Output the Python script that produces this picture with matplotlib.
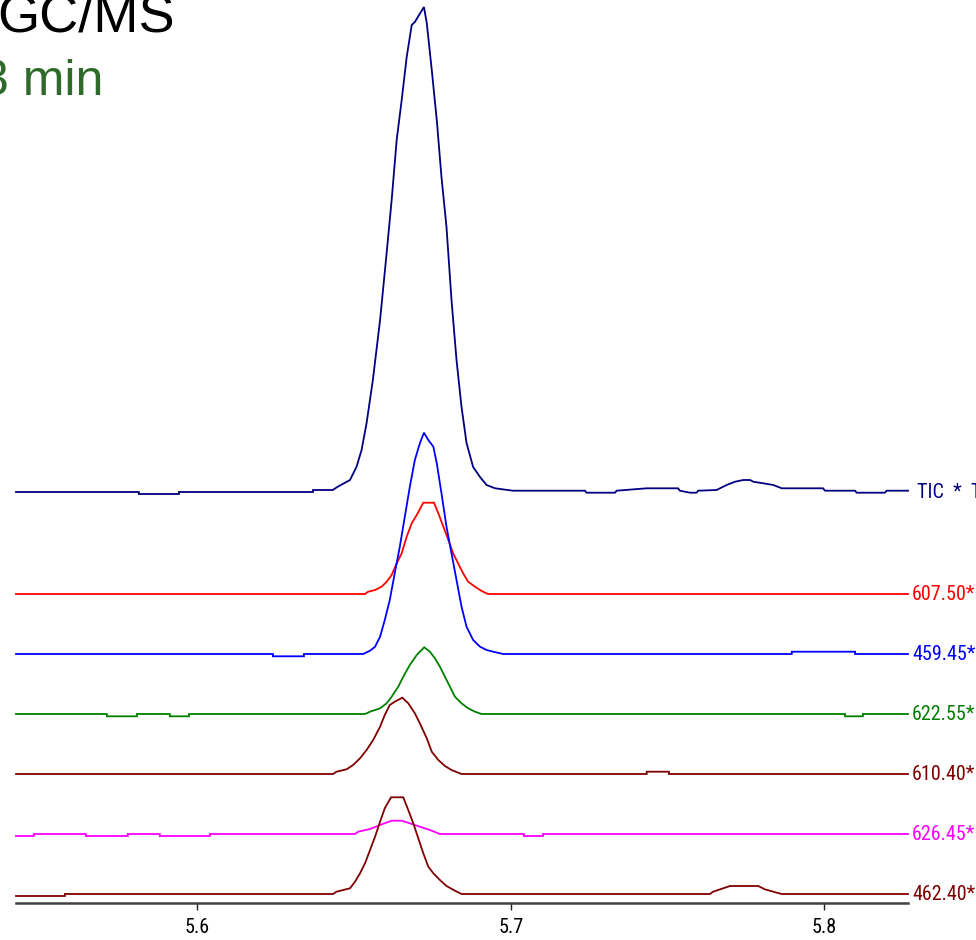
import matplotlib
matplotlib.use("Agg")
import matplotlib.pyplot as plt
from matplotlib import font_manager as fm

# ---------------- data (time in min, intensity in arbitrary units) ----------------
tic_t = [5.5421, 5.5813, 5.5813, 5.5941, 5.5941, 5.6369, 5.6369, 5.6432, 5.6448, 5.6487,
         5.6508, 5.6524, 5.6540, 5.6560, 5.6583, 5.6604, 5.6620, 5.6636, 5.6652, 5.6668,
         5.6684, 5.6694, 5.6723, 5.6732, 5.6748, 5.6764, 5.6779, 5.6795, 5.6811, 5.6827,
         5.6843, 5.6859, 5.6880, 5.6902, 5.6923, 5.6950, 5.7007, 5.7237, 5.7242, 5.7333,
         5.7338, 5.7434, 5.7534, 5.7540, 5.7572, 5.7593, 5.7598, 5.7657, 5.7689, 5.7716,
         5.7742, 5.7764, 5.7774, 5.7806, 5.7838, 5.7865, 5.7997, 5.8003, 5.8099, 5.8104,
         5.8194, 5.8200, 5.8268]
tic_i = [0, 0, -2, -2, 0, 0, 2, 2, 5.3, 12,
         25.3, 42, 69, 112, 172, 239, 292, 352, 392, 435,
         467, 470, 485, 469, 422, 372, 315, 265, 192, 132,
         85, 49, 25, 15, 7, 3.7, 1.3, 1.3, -0.7, -0.7,
         1.3, 3.7, 3.7, 1.3, -0.7, -0.7, 1.3, 2, 7, 10.3,
         12, 12, 10.3, 8.7, 7, 3.7, 3.7, 1.3, 1.3, -0.7,
         -0.7, 1.3, 1.3]

m607_t = [5.5421, 5.6535, 5.6545, 5.6567, 5.6588, 5.6604, 5.6620, 5.6636, 5.6652, 5.6668,
          5.6684, 5.6700, 5.6721, 5.6755, 5.6769, 5.6785, 5.6801, 5.6816, 5.6832, 5.6848,
          5.6864, 5.6886, 5.6902, 5.6918, 5.6928, 5.8268]
m607_i = [0, 0, 2.3, 4, 7.3, 12.3, 19, 30.7, 40.7, 57.3,
          70.7, 79, 91.3, 91.3, 80.7, 67.3, 54, 40.7, 30.7, 20.7,
          12.3, 7.3, 4, 1.3, 0, 0]

m459_t = [5.5421, 5.6241, 5.6241, 5.6340, 5.6340, 5.6529, 5.6551, 5.6567, 5.6583, 5.6598,
          5.6614, 5.6630, 5.6646, 5.6662, 5.6678, 5.6694, 5.6710, 5.6723, 5.6737, 5.6753,
          5.6764, 5.6779, 5.6795, 5.6811, 5.6827, 5.6843, 5.6859, 5.6880, 5.6902, 5.6923,
          5.6944, 5.6976, 5.7897, 5.7897, 5.8099, 5.8099, 5.8268]
m459_i = [0, 0, -2.3, -2.3, 0, 0, 3.3, 7.3, 17.3, 34,
          54, 81, 107.3, 137.3, 167.3, 194, 210.7, 221.3, 214, 207.3,
          190.7, 160.7, 127.3, 100.7, 74, 47.3, 27.3, 14, 7.3, 4,
          2.3, 0, 0, 2.3, 2.3, 0, 0]

m622_t = [5.5421, 5.5711, 5.5711, 5.5807, 5.5807, 5.5912, 5.5912, 5.5973, 5.5973, 5.6535,
          5.6551, 5.6583, 5.6604, 5.6620, 5.6641, 5.6657, 5.6678, 5.6700, 5.6724, 5.6742,
          5.6758, 5.6774, 5.6790, 5.6806, 5.6822, 5.6843, 5.6864, 5.6886, 5.6907, 5.8067,
          5.8067, 5.8124, 5.8124, 5.8268]
m622_i = [0, 0, -2.3, -2.3, 0, 0, -2.3, -2.3, 0, 0,
          2.3, 5.7, 10.7, 17.3, 27.3, 37.3, 49, 59, 66.7, 62.3,
          55.7, 47.3, 37.3, 27.3, 17.3, 10.7, 5.7, 2.3, 0, 0,
          -2.3, -2.3, 0, 0]

m610_t = [5.5421, 5.6433, 5.6444, 5.6476, 5.6497, 5.6519, 5.6540, 5.6561, 5.6583, 5.6598,
          5.6614, 5.6630, 5.6654, 5.6673, 5.6694, 5.6710, 5.6732, 5.6748, 5.6769, 5.6790,
          5.6811, 5.6827, 5.6843, 5.7434, 5.7434, 5.7505, 5.7505, 5.8268]
m610_i = [0, 0, 2.3, 4.7, 9, 15.7, 24, 34, 47.3, 59,
          69, 72.3, 76.3, 70.7, 60.7, 50.7, 35.7, 22.3, 14, 8,
          4, 2, 0, 0, 2.3, 2.3, 0, 0]

m626_t = [5.5421, 5.5478, 5.5478, 5.5644, 5.5644, 5.5778, 5.5778, 5.5880, 5.5880, 5.6040,
          5.6040, 5.6503, 5.6513, 5.6551, 5.6583, 5.6620, 5.6652, 5.6678, 5.6710, 5.6742,
          5.6774, 5.7042, 5.7042, 5.7103, 5.7103, 5.8268]
m626_i = [-2, -2, 0, 0, -2, -2, 0, 0, -2, -2,
          0, 0, 2.3, 5, 9, 13.3, 13.3, 10.7, 7.3, 4,
          0, 0, -2, -2, 0, 0]

m462_t = [5.5421, 5.5577, 5.5577, 5.6433, 5.6444, 5.6487, 5.6503, 5.6519, 5.6535, 5.6551,
          5.6567, 5.6583, 5.6598, 5.6618, 5.6657, 5.6673, 5.6689, 5.6705, 5.6721, 5.6737,
          5.6753, 5.6774, 5.6795, 5.6822, 5.6843, 5.7636, 5.7646, 5.7678, 5.7700, 5.7790,
          5.7811, 5.7838, 5.7865, 5.8268]
m462_i = [-2, -2, 0, 0, 2.3, 5.7, 12.3, 20.7, 30.7, 44,
          57.3, 72.3, 85.7, 96.7, 96.7, 84, 70.7, 55.7, 40.7, 27.3,
          20.7, 14, 8, 3.3, 0, 0, 2.3, 5.7, 8, 8,
          4.7, 2.3, 0, 0]

trace_labels = ["TIC  *  TIC", "607.50*", "459.45*", "622.55*", "610.40*", "626.45*", "462.40*"]
xticks = [5.6, 5.7, 5.8]
xtick_labels = ["5.6", "5.7", "5.8"]

# ---------------- styling / layout ----------------
colors = ["#000080", "#ff0000", "#0000ff", "#008000", "#800000", "#ff00ff", "#800000"]
offsets = [411, 309, 249, 189, 129, 69, 9]
traces = [(tic_t, tic_i), (m607_t, m607_i), (m459_t, m459_i), (m622_t, m622_i),
          (m610_t, m610_i), (m626_t, m626_i), (m462_t, m462_i)]


def find_condensed():
    fl = [f for f in fm.fontManager.ttflist if f.style == "normal"]

    def is_regular(f):
        w = f.weight
        return w in (400, "normal", "regular", "book", 500, "medium")

    fl = [f for f in fl if is_regular(f)]
    prefer = ["Liberation Sans Narrow", "Arial Narrow", "Roboto Condensed",
              "Open Sans Condensed", "Noto Sans Condensed", "DejaVu Sans Condensed",
              "Noto Sans SemiCondensed"]
    for p in prefer:
        for f in fl:
            if f.name == p:
                return f.fname

    def bad(path):
        low = path.lower()
        return any(k in low for k in ("mono", "serif", "bold", "italic", "light", "thin",
                                      "black", "cjk", "extra", "ultra"))
    for f in fl:
        low = f.fname.lower()
        if ("condensed" in low or "narrow" in low) and not bad(f.fname):
            return f.fname
    for f in fl:
        if f.stretch in ("condensed", "semi-condensed") and not bad(f.fname):
            return f.fname
    return None


cpath = find_condensed()


def small_font(size):
    if cpath:
        return fm.FontProperties(fname=cpath, size=size)
    return fm.FontProperties(family="DejaVu Sans", size=size * 0.82)


W, H = 976, 940
fig = plt.figure(figsize=(W / 100, H / 100), dpi=100)
fig.patch.set_facecolor("white")
ax = fig.add_axes([16 / W, 37 / H, (908 - 16) / W, 903 / H])
ax.set_xlim(5.5421, 5.8268)
ax.set_ylim(0, 903)

for (t, inten), off, c in zip(traces, offsets, colors):
    ax.plot(t, [off + v for v in inten], color=c, lw=1.3, clip_on=False,
            solid_joinstyle="miter")

for lab, off, c in zip(trace_labels, offsets, colors):
    dx = 6.5 if lab.startswith("TIC") else 3.0
    ax.annotate(lab, xy=(5.8268, off), xytext=(dx, 0), textcoords="offset points",
                ha="left", va="center", color=c, fontproperties=small_font(14.5),
                annotation_clip=False)

for s in ["top", "left", "right"]:
    ax.spines[s].set_visible(False)
ax.spines["bottom"].set_color("#404040")
ax.spines["bottom"].set_linewidth(1.8)
ax.set_yticks([])
ax.set_xticks(xticks)
ax.set_xticklabels(xtick_labels)
for lbl in ax.get_xticklabels():
    lbl.set_fontproperties(small_font(14.5))
ax.tick_params(axis="x", direction="out", length=5, width=1, color="#202020", pad=6)
ax.set_facecolor("none")

fig.text(175 / W, 1 - 31 / H, "GC/MS", ha="right", va="baseline", fontsize=39,
         family="Liberation Sans", color="black")
fig.text(103 / W, 1 - 95 / H, "3 min", ha="right", va="baseline", fontsize=36,
         family="Liberation Sans", color="#2e6b2a")

fig.savefig("out.png", dpi=100)
